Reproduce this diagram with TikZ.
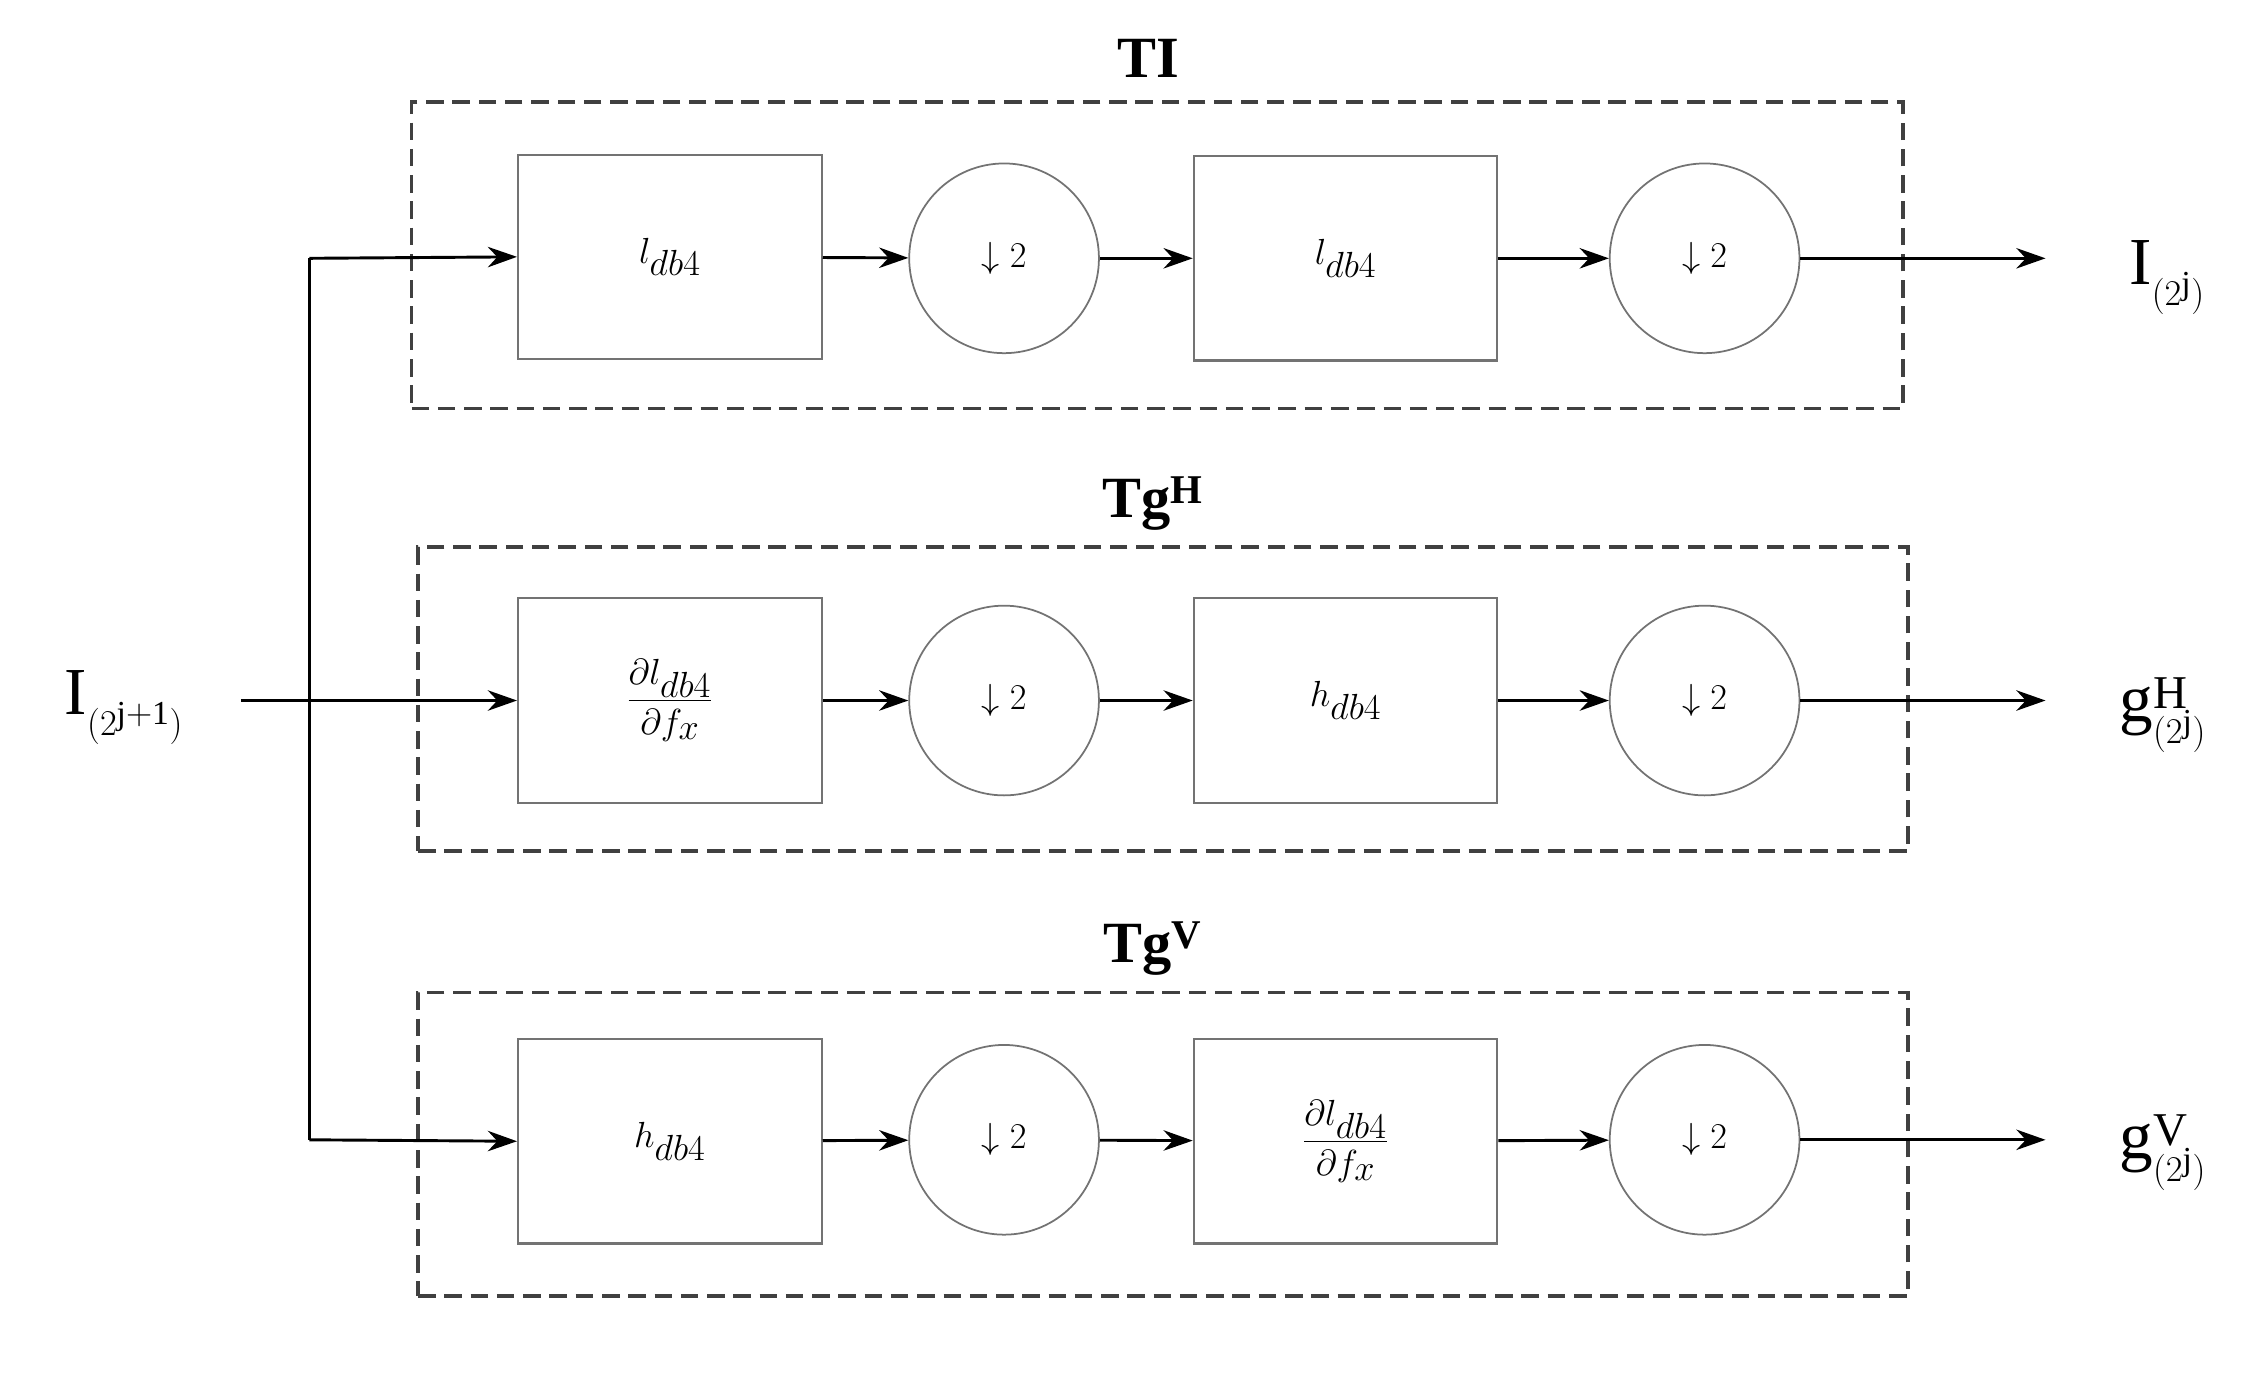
\documentclass[tikz,border=0pt]{standalone}
\usepackage{fontspec}
\setmainfont{Liberation Serif}
\usetikzlibrary{arrows.meta}
\begin{document}
\begin{tikzpicture}[x=1pt,y=-1pt,
  blk/.style={draw=black!55,line width=1.5pt,minimum width=208pt,minimum height=140pt,inner sep=0pt,font=\fontsize{62}{70}\selectfont},
  dn/.style={draw=black!55,line width=1.2pt,circle,minimum size=130pt,inner sep=0pt,font=\fontsize{62}{70}\selectfont},
  grp/.style={draw=black!75,dashed,dash pattern=on 12pt off 6pt,line width=2.5pt},
  ar/.style={-{Stealth[length=20pt,width=14pt]},line width=2pt},
  ttl/.style={font=\bfseries\fontsize{40}{44}\selectfont},
  lab/.style={font=\fontsize{46}{50}\selectfont}]
\useasboundingbox (0,0) rectangle (1552,952);
\newcommand{\dsf}{$\displaystyle\frac{\partial l_{db4}}{\partial f_x}$}
% row 1
\node[grp,minimum width=1022pt,minimum height=210pt] (g1) at (793,175) {};
\node[ttl] (t1) at (787,40) {TI};
\node[blk] (a1) at (459,176) {$l_{db4}$};
\node[dn] (c1) at (688,177) {$\downarrow 2$};
\node[blk] (b1) at (922,177) {$l_{db4}$};
\node[dn] (d1) at (1168,177) {$\downarrow 2$};
\node[lab] (o1) at (1485,190) {I$_{(2^{\mathrm j})}$};
% row 2
\node[grp,minimum width=1021pt,minimum height=208pt] (g2) at (797,479) {};
\node[ttl] (t2) at (790,345) {Tg$^{\mathbf H}$};
\node[blk,font=\fontsize{40}{44}\selectfont] (a2) at (459,480) {\dsf};
\node[dn] (c2) at (688,480) {$\downarrow 2$};
\node[blk] (b2) at (922,480) {$h_{db4}$};
\node[dn] (d2) at (1168,480) {$\downarrow 2$};
\node[lab] (o2) at (1482,490) {g$^{\mathrm H}_{(2^{\mathrm j})}$};
% row 3
\node[grp,minimum width=1021pt,minimum height=208pt] (g3) at (797,784) {};
\node[ttl] (t3) at (790,650) {Tg$^{\mathbf V}$};
\node[blk] (a3) at (459,782) {$h_{db4}$};
\node[dn] (c3) at (688,781) {$\downarrow 2$};
\node[blk,font=\fontsize{40}{44}\selectfont] (b3) at (922,782) {\dsf};
\node[dn] (d3) at (1168,781) {$\downarrow 2$};
\node[lab] (o3) at (1482,790) {g$^{\mathrm V}_{(2^{\mathrm j})}$};
% input
\node[lab] (in) at (85,485) {I$_{(2^{\mathrm{j+1}})}$};
\coordinate (s) at (165,480);
\coordinate (v1) at (212,177);
\coordinate (v3) at (212,781);
\draw[ar] (s) -- (a2.west);
\draw[line width=2pt] (v1) -- (v3);
\draw[ar] (v1) -- (a1.west);
\draw[ar] (v3) -- (a3.west);
\foreach \r in {1,2,3}{
  \draw[ar] (a\r) -- (c\r);
  \draw[ar] (c\r) -- (b\r);
  \draw[ar] (b\r) -- (d\r);
  \draw[ar] (d\r.east) -- ++(168,0);
}
\end{tikzpicture}
\end{document}
